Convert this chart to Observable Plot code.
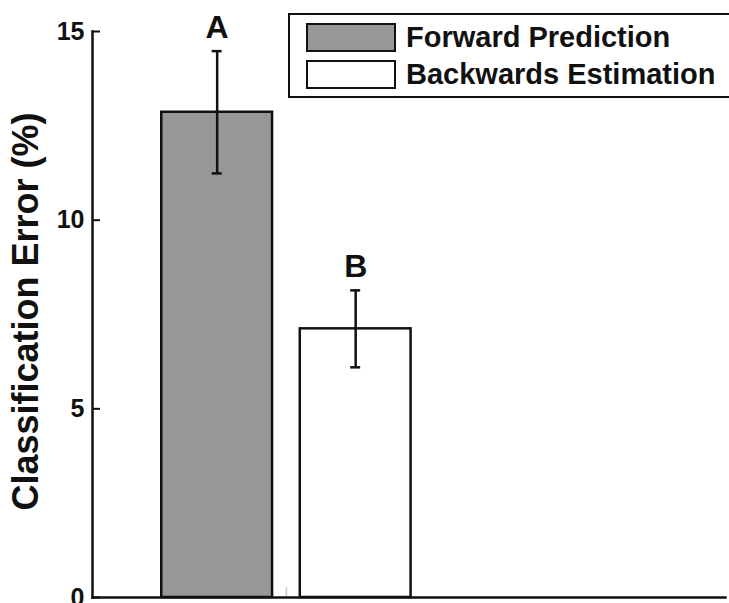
<!DOCTYPE html>
<html>
<head>
<meta charset="utf-8">
<script src="https://cdn.jsdelivr.net/npm/d3@7"></script>
<script src="https://cdn.jsdelivr.net/npm/@observablehq/plot@0.6"></script>
<style>
  html, body { margin: 0; padding: 0; background: #fff; }
  #chart { position: relative; width: 729px; height: 603px; font-family: "Liberation Sans", Arial, sans-serif; }
  #chart svg { position: absolute; left: 0; top: 0; }
  .legend { position: absolute; left: 288px; top: 13px; width: 460px; height: 81px;
            border: 2px solid #111; background: #fff; box-sizing: content-box; }
  .legend .row { position: absolute; left: 16px; display: flex; align-items: center; }
  .legend .sw { width: 86px; height: 25px; border: 2.5px solid #111; margin-right: 10px; }
  .legend .lab { font-weight: bold; font-size: 29px; color: #111; line-height: 1; }
</style>
</head>
<body>
<div id="chart"></div>
<script>
// Conditions and their mean classification error with spread
const conditions = ["Forward Prediction", "Backwards Estimation"];
const positions = [1, 2];
const means = [12.86, 7.12];
const errors = [1.62, 1.02];
const letters = ["A", "B"];
const fills = ["#979797", "#ffffff"];
const yTicks = [0, 5, 10, 15];

const halfWidth = 0.4;
const capHalf = 0.036;

const rows = conditions.map((c, i) => ({
  condition: c,
  pos: positions[i],
  mean: means[i],
  lo: means[i] - errors[i],
  hi: means[i] + errors[i],
  letter: letters[i],
  fill: fills[i]
}));

const plot = Plot.plot({
  width: 729,
  height: 603,
  marginLeft: 92,
  marginRight: 4,
  marginTop: 31,
  marginBottom: 6,
  style: { fontFamily: "Liberation Sans, Arial, sans-serif", background: "transparent", overflow: "visible" },
  x: { domain: [0.1, 4.67], axis: null },
  y: { domain: [0, 15] },
  marks: [
    Plot.rectY(rows, {
      x1: d => d.pos - halfWidth, x2: d => d.pos + halfWidth,
      y1: 0, y2: "mean", fill: d => d.fill, stroke: "#111", strokeWidth: 2.5
    }),
    Plot.ruleX(rows, { x: "pos", y1: "lo", y2: "hi", stroke: "#111", strokeWidth: 2.5 }),
    Plot.ruleY(rows, { y: "hi", x1: d => d.pos - capHalf, x2: d => d.pos + capHalf, stroke: "#111", strokeWidth: 2.5 }),
    Plot.ruleY(rows, { y: "lo", x1: d => d.pos - capHalf, x2: d => d.pos + capHalf, stroke: "#111", strokeWidth: 2.5 }),
    Plot.text(rows, {
      x: "pos", y: "hi", text: "letter", lineAnchor: "bottom", dy: -13,
      fontSize: 32, fontWeight: "bold", fill: "#111"
    }),
    Plot.axisX({ ticks: [1.5], tickSize: -10, tickFormat: () => "", label: null, stroke: "#c8c8c8", strokeWidth: 1.5 }),
    // inward tick marks on the y axis, with bold labels drawn separately
    Plot.axisY({ ticks: yTicks, tickSize: -8, tickFormat: () => "", label: null, stroke: "#111", strokeWidth: 2 }),
    Plot.text(yTicks, {
      y: d => d, text: d => String(d), frameAnchor: "left", textAnchor: "end", dx: -8,
      fontSize: 25, fontWeight: "bold", fill: "#111"
    }),
    Plot.frame({ anchor: "left", stroke: "#111", strokeWidth: 2.5 }),
    Plot.frame({ anchor: "bottom", stroke: "#111", strokeWidth: 2.5 }),
    Plot.text(["Classification Error (%)"], {
      frameAnchor: "left", textAnchor: "middle", dx: -66, dy: -3, rotate: -90, text: d => d,
      fontSize: 36, fontWeight: "bold", fill: "#111"
    })
  ]
});

const chart = document.getElementById("chart");
chart.appendChild(plot);

// Legend box in the upper right of the plot area
const legend = document.createElement("div");
legend.className = "legend";
conditions.forEach((c, i) => {
  const row = document.createElement("div");
  row.className = "row";
  row.style.top = (8 + i * 37) + "px";
  const sw = document.createElement("div");
  sw.className = "sw";
  sw.style.background = fills[i];
  const lab = document.createElement("span");
  lab.className = "lab";
  lab.textContent = c;
  row.appendChild(sw);
  row.appendChild(lab);
  legend.appendChild(row);
});
chart.appendChild(legend);
</script>
</body>
</html>
